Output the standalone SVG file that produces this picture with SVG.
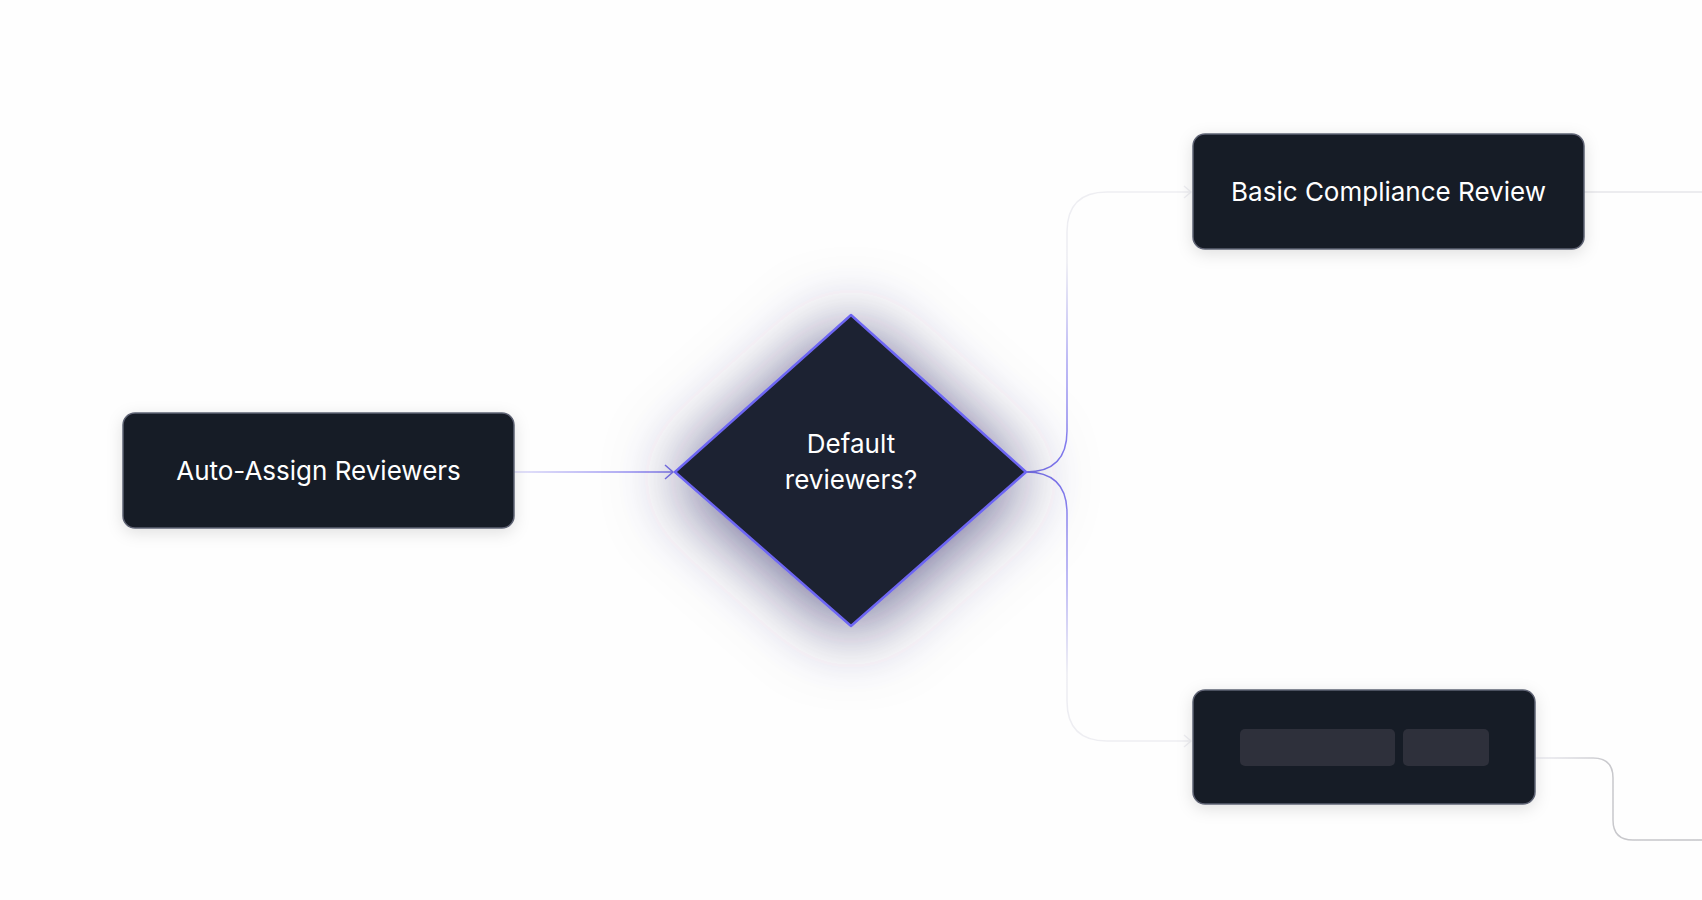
<svg xmlns="http://www.w3.org/2000/svg" width="1702" height="900" viewBox="0 0 1702 900">
<defs>
<style>
.node{fill:#181a25;stroke:#5e6474;stroke-width:1.5}
.lbl{font-family:Inter,"Liberation Sans",sans-serif;font-size:26px;fill:#ffffff;text-anchor:middle}
.bar{fill:#2e303b}
.conn{fill:none;stroke-width:1.5}
</style>
<filter id="sh" x="-20%" y="-40%" width="140%" height="180%">
<feDropShadow dx="0" dy="4" stdDeviation="8" flood-color="#000000" flood-opacity="0.12"/>
</filter>
<filter id="glow" x="-60%" y="-60%" width="220%" height="220%">
<feDropShadow dx="0" dy="8" stdDeviation="36" flood-color="#35326a" flood-opacity="0.78"/>
</filter>
<linearGradient id="gIn" gradientUnits="userSpaceOnUse" x1="514" y1="0" x2="675" y2="0">
<stop offset="0" stop-color="#dcdaf8"/><stop offset="1" stop-color="#7a72ee"/>
</linearGradient>
<linearGradient id="gUp" gradientUnits="userSpaceOnUse" x1="0" y1="472" x2="0" y2="192">
<stop offset="0" stop-color="#7a72ee"/><stop offset="0.4" stop-color="#a9a4f2"/><stop offset="0.75" stop-color="#ececf2"/><stop offset="1" stop-color="#eeeef2"/>
</linearGradient>
<linearGradient id="gDn" gradientUnits="userSpaceOnUse" x1="0" y1="472" x2="0" y2="741">
<stop offset="0" stop-color="#7a72ee"/><stop offset="0.4" stop-color="#a9a4f2"/><stop offset="0.75" stop-color="#ececf2"/><stop offset="1" stop-color="#eeeef2"/>
</linearGradient>
<linearGradient id="gOut" gradientUnits="userSpaceOnUse" x1="1535" y1="0" x2="1702" y2="0">
<stop offset="0" stop-color="#ececf2"/><stop offset="0.45" stop-color="#c8c8cc"/><stop offset="1" stop-color="#c4c4c8"/>
</linearGradient>
</defs>
<rect width="1702" height="900" fill="#fefefe"/>
<g id="connectors">
<path class="conn" stroke="url(#gIn)" d="M514,472 L673,472"/>
<path class="conn" stroke="#7a72ee" d="M665,465 L673,472 L665,479"/>
<path class="conn" stroke="url(#gUp)" d="M1026,472 Q1067,472 1067,431 L1067,232 Q1067,192 1107,192 L1191,192"/>
<path class="conn" stroke="#eeeef2" d="M1184,186 L1191,192 L1184,198"/>
<path class="conn" stroke="url(#gDn)" d="M1026,472 Q1067,472 1067,513 L1067,701 Q1067,741 1107,741 L1191,741"/>
<path class="conn" stroke="#eeeef2" d="M1184,735 L1191,741 L1184,747"/>
<path class="conn" stroke="#e6e6ea" d="M1584,192 L1702,192"/>
<path class="conn" stroke="url(#gOut)" d="M1535,758 L1593,758 Q1613,758 1613,778 L1613,820 Q1613,840 1633,840 L1702,840"/>
</g>
<g id="auto-assign">
<rect class="node" x="123" y="413" width="391" height="115" rx="12" filter="url(#sh)"/>
<text class="lbl" x="318.5" y="480">Auto-Assign Reviewers</text>
</g>
<g id="default-reviewers">
<path d="M851,315 L1026,472 L851,626 L675,472 Z" fill="#1e2030" stroke="#6d66f2" stroke-width="2.5" stroke-linejoin="round" filter="url(#glow)"/>
<text class="lbl" x="851" y="453">Default</text>
<text class="lbl" x="851" y="489">reviewers?</text>
</g>
<g id="basic-compliance">
<rect class="node" x="1193" y="134" width="391" height="115" rx="12" filter="url(#sh)"/>
<text class="lbl" x="1388.5" y="201">Basic Compliance Review</text>
</g>
<g id="placeholder">
<rect class="node" x="1193" y="690" width="342" height="114" rx="12" filter="url(#sh)"/>
<rect class="bar" x="1240" y="729" width="155" height="37" rx="5"/>
<rect class="bar" x="1403" y="729" width="86" height="37" rx="5"/>
</g>
</svg>
